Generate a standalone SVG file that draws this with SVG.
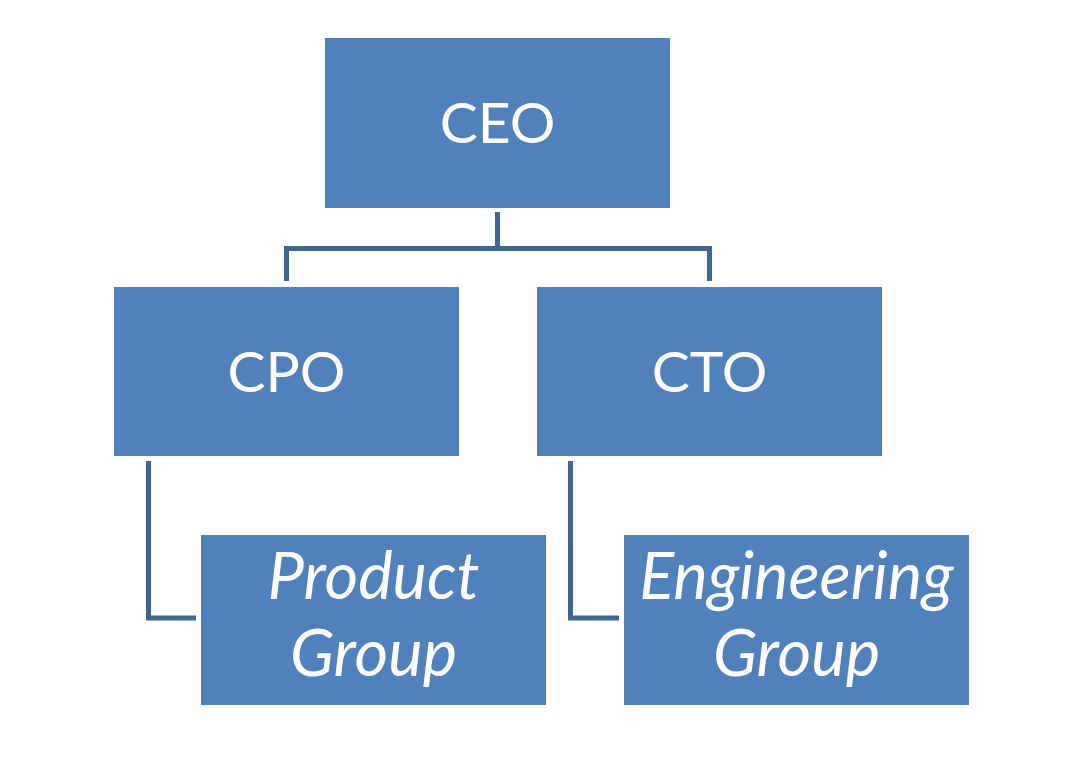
<svg xmlns="http://www.w3.org/2000/svg" width="1076" height="766" viewBox="0 0 1076 766">
<style>
.box{fill:#4f81bd}
.lbl{font-family:Lato,"Open Sans","Liberation Sans",sans-serif;fill:#fff;text-anchor:middle;font-size:57px}
.it{font-style:italic;font-size:65px}
.con{fill:none;stroke:#3e6596;stroke-width:5}
</style>
<rect width="1076" height="766" fill="#fff"/>
<g id="connectors">
<path class="con" d="M497.5 212V248.5H286.5V281M497.5 248.5H709.5V281"/>
<path class="con" d="M148.5 461V618H196"/>
<path class="con" d="M570.5 461V618H619"/>
</g>
<g id="ceo"><rect class="box" x="325" y="38" width="345" height="170"/><text class="lbl" x="497.5" y="143">CEO</text></g>
<g id="cpo"><rect class="box" x="114" y="287" width="345" height="169"/><text class="lbl" x="286.5" y="392">CPO</text></g>
<g id="cto"><rect class="box" x="537" y="287" width="345" height="169"/><text class="lbl" x="709.5" y="392">CTO</text></g>
<g id="product"><rect class="box" x="201" y="535" width="345" height="170"/><text class="lbl it" x="373.5" y="599">Product</text><text class="lbl it" x="373.5" y="676">Group</text></g>
<g id="engineering"><rect class="box" x="624" y="535" width="345" height="170"/><text class="lbl it" x="796.5" y="599">Engineering</text><text class="lbl it" x="796.5" y="676">Group</text></g>
</svg>
